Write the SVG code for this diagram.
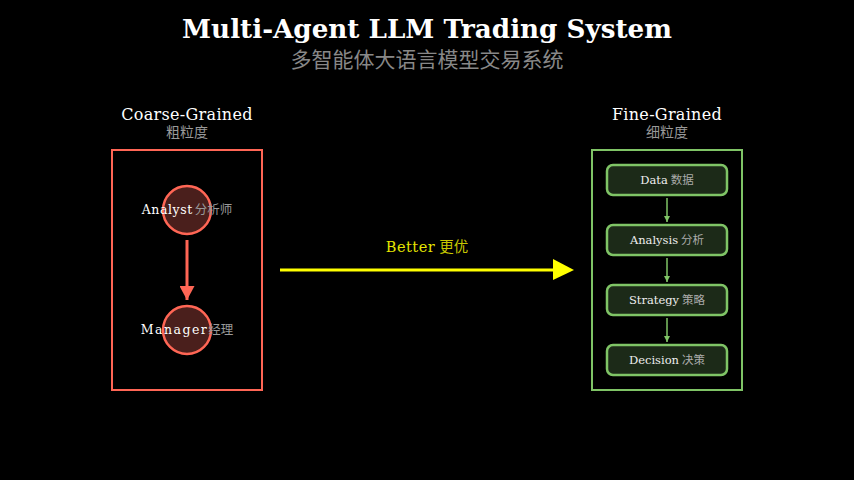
<svg xmlns="http://www.w3.org/2000/svg" width="854" height="480" viewBox="0 0 854 480">
<defs>
<style>
.lbl{font-size:12.5px;fill:#ffffff;}
.circ{fill:#4a1f1c;stroke:#ff6655;stroke-width:2.5;}
.step{fill:#1c2a18;stroke:#7fc466;stroke-width:2.5;}
.stepTxt{font-size:11.5px;fill:#eeeeee;}
</style>
<marker id="redHead" markerWidth="14" markerHeight="15" refX="14" refY="7.5" orient="auto" markerUnits="userSpaceOnUse" viewBox="0 0 14 15">
<path d="M0,0 L14,7.5 L0,15 Z" fill="#ff6655"/>
</marker>
<marker id="grnHead" markerWidth="6" markerHeight="6" refX="6" refY="3" orient="auto" markerUnits="userSpaceOnUse" viewBox="0 0 6 6">
<path d="M0,0 L6,3 L0,6 Z" fill="#7fc466"/>
</marker>
</defs>
<rect width="854" height="480" fill="#000000"/>
<g id="title">
<text x="427" y="38" text-anchor="middle" font-family="DejaVu Serif, serif" font-size="26.2" font-weight="bold" fill="#ffffff">Multi-Agent LLM Trading System</text>
<text x="427" y="67" text-anchor="middle" font-family="Noto Sans CJK SC, sans-serif" font-size="21" fill="#888888">多智能体大语言模型交易系统</text>
</g>
<g id="coarse">
<text x="187" y="119.5" text-anchor="middle" font-family="DejaVu Serif, serif" font-size="16" letter-spacing="0.3" fill="#ffffff">Coarse-Grained</text>
<text x="187" y="137" text-anchor="middle" font-family="Noto Sans CJK SC, sans-serif" font-size="14" fill="#999999">粗粒度</text>
<rect x="112" y="150" width="150" height="240" fill="none" stroke="#ff6655" stroke-width="2"/>
</g>
<g id="analyst">
<circle class="circ" cx="187" cy="210" r="24"/>
<text x="187" y="214" text-anchor="middle" class="lbl"><tspan font-family="DejaVu Serif, serif" letter-spacing="0.6">Analyst</tspan><tspan font-family="Noto Sans CJK SC, sans-serif" fill="#999999" dx="2">分析师</tspan></text>
</g>
<g id="manager">
<circle class="circ" cx="187" cy="330" r="24"/>
<text x="187" y="334" text-anchor="middle" class="lbl"><tspan font-family="DejaVu Serif, serif" letter-spacing="1.5">Manager</tspan><tspan font-family="Noto Sans CJK SC, sans-serif" fill="#999999">经理</tspan></text>
</g>
<g id="fine">
<text x="667" y="119.5" text-anchor="middle" font-family="DejaVu Serif, serif" font-size="16" letter-spacing="0.3" fill="#ffffff">Fine-Grained</text>
<text x="667" y="137" text-anchor="middle" font-family="Noto Sans CJK SC, sans-serif" font-size="14" fill="#999999">细粒度</text>
<rect x="592" y="150" width="150" height="240" fill="none" stroke="#7fc466" stroke-width="2"/>
</g>
<g id="data">
<rect class="step" x="607" y="165" width="120" height="30" rx="6"/>
<text x="667" y="184" text-anchor="middle" class="stepTxt"><tspan font-family="DejaVu Serif, serif">Data</tspan><tspan font-family="Noto Sans CJK SC, sans-serif" fill="#aaaaaa" dx="3">数据</tspan></text>
</g>
<g id="analysis">
<rect class="step" x="607" y="225" width="120" height="30" rx="6"/>
<text x="667" y="244" text-anchor="middle" class="stepTxt"><tspan font-family="DejaVu Serif, serif">Analysis</tspan><tspan font-family="Noto Sans CJK SC, sans-serif" fill="#aaaaaa" dx="3">分析</tspan></text>
</g>
<g id="strategy">
<rect class="step" x="607" y="285" width="120" height="30" rx="6"/>
<text x="667" y="304" text-anchor="middle" class="stepTxt"><tspan font-family="DejaVu Serif, serif">Strategy</tspan><tspan font-family="Noto Sans CJK SC, sans-serif" fill="#aaaaaa" dx="3">策略</tspan></text>
</g>
<g id="decision">
<rect class="step" x="607" y="345" width="120" height="30" rx="6"/>
<text x="667" y="364" text-anchor="middle" class="stepTxt"><tspan font-family="DejaVu Serif, serif">Decision</tspan><tspan font-family="Noto Sans CJK SC, sans-serif" fill="#aaaaaa" dx="3">决策</tspan></text>
</g>
<g id="better-label">
<text x="427" y="252" text-anchor="middle" font-size="14.5" fill="#e6e600"><tspan font-family="DejaVu Serif, serif" letter-spacing="0.5">Better</tspan><tspan font-family="Noto Sans CJK SC, sans-serif" dx="4" fill="#c8c800">更优</tspan></text>
</g>
<g id="connectors">
<line x1="187" y1="240" x2="187" y2="300" stroke="#ff6655" stroke-width="3" marker-end="url(#redHead)"/>
<line x1="667" y1="198" x2="667" y2="222" stroke="#7fc466" stroke-width="1.5" marker-end="url(#grnHead)"/>
<line x1="667" y1="258" x2="667" y2="282" stroke="#7fc466" stroke-width="1.5" marker-end="url(#grnHead)"/>
<line x1="667" y1="318" x2="667" y2="342" stroke="#7fc466" stroke-width="1.5" marker-end="url(#grnHead)"/>
<line x1="280" y1="270" x2="556" y2="270" stroke="#ffff00" stroke-width="3"/>
<path d="M553,259 L574,270 L553,280 Z" fill="#ffff00"/>
</g>
</svg>
